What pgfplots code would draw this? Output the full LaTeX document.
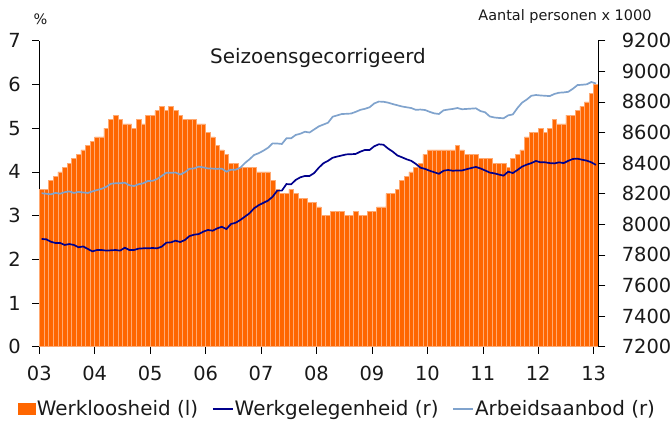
\documentclass[border=0pt]{standalone}
\usepackage{pgfplots}
\usepackage{pgfplotstable}
\pgfplotsset{compat=1.18}
\usepackage{fontspec}
\setmainfont{DejaVu Sans}
\definecolor{worange}{RGB}{255,102,0}
\definecolor{wsep}{RGB}{255,170,115}
\definecolor{wdark}{RGB}{0,0,140}
\definecolor{wlight}{RGB}{128,163,205}
\definecolor{txt}{RGB}{25,25,25}

\pgfplotstableread{
i u e s
0 3.6 7904 8203
1 3.6 7902 8200
2 3.8 7886 8196
3 3.9 7878 8205
4 4.0 7878 8200
5 4.1 7865 8210
6 4.2 7871 8215
7 4.3 7865 8205
8 4.4 7850 8212
9 4.5 7855 8208
10 4.6 7839 8205
11 4.7 7823 8215
12 4.8 7832 8224
13 4.8 7832 8232
14 5.0 7828 8245
15 5.2 7830 8265
16 5.3 7832 8268
17 5.2 7828 8268
18 5.1 7847 8272
19 5.1 7832 8255
20 5.0 7832 8250
21 5.2 7841 8262
22 5.1 7843 8268
23 5.3 7843 8283
24 5.3 7845 8284
25 5.4 7843 8296
26 5.5 7854 8316
27 5.4 7880 8337
28 5.5 7882 8337
29 5.4 7893 8338
30 5.3 7884 8325
31 5.2 7897 8340
32 5.2 7923 8363
33 5.2 7932 8365
34 5.1 7936 8377
35 5.1 7952 8372
36 4.9 7963 8365
37 4.8 7958 8364
38 4.6 7973 8362
39 4.5 7984 8364
40 4.4 7969 8344
41 4.2 8002 8357
42 4.2 8010 8357
43 4.1 8028 8370
44 4.1 8050 8400
45 4.1 8072 8425
46 4.1 8105 8453
47 4.0 8125 8465
48 4.0 8140 8481
49 4.0 8155 8500
50 3.8 8180 8529
51 3.6 8220 8528
52 3.5 8220 8525
53 3.5 8263 8562
54 3.6 8261 8562
55 3.5 8290 8584
56 3.4 8307 8592
57 3.4 8316 8605
58 3.3 8316 8600
59 3.3 8335 8620
60 3.2 8370 8640
61 3.0 8399 8652
62 3.0 8415 8664
63 3.1 8435 8703
64 3.1 8443 8712
65 3.1 8450 8721
66 3.0 8457 8722
67 3.0 8458 8724
68 3.1 8460 8735
69 3.0 8475 8748
70 3.0 8486 8755
71 3.1 8486 8765
72 3.1 8510 8790
73 3.2 8523 8802
74 3.2 8520 8801
75 3.5 8495 8795
76 3.5 8475 8786
77 3.6 8450 8778
78 3.8 8438 8770
79 3.9 8425 8765
80 4.0 8415 8760
81 4.1 8395 8748
82 4.2 8370 8750
83 4.4 8362 8747
84 4.5 8350 8735
85 4.5 8340 8725
86 4.5 8330 8721
87 4.5 8350 8745
88 4.5 8355 8750
89 4.5 8350 8754
90 4.6 8352 8760
91 4.5 8352 8752
92 4.4 8360 8754
93 4.4 8368 8756
94 4.4 8375 8758
95 4.3 8365 8740
96 4.3 8352 8732
97 4.3 8338 8705
98 4.2 8333 8698
99 4.2 8325 8695
100 4.2 8318 8693
101 4.1 8344 8712
102 4.3 8335 8718
103 4.4 8355 8760
104 4.5 8377 8795
105 4.8 8390 8815
106 4.9 8400 8840
107 4.9 8414 8845
108 5.0 8405 8842
109 4.9 8405 8840
110 5.0 8400 8838
111 5.2 8398 8852
112 5.1 8405 8860
113 5.1 8400 8862
114 5.3 8415 8866
115 5.3 8427 8886
116 5.4 8429 8910
117 5.5 8422 8912
118 5.6 8416 8915
119 5.8 8405 8930
120 6.0 8388 8920
}\data

\pgfplotsset{
  common/.style={
    at={(39.3bp,74.3bp)}, anchor=south west,
    scale only axis, width=559bp, height=306bp,
    xmin=0, xmax=121,
    tick align=outside, major tick length=7bp,
    tick style={black, line width=0.6pt},
    axis line style={black, line width=0.8pt, -},
    tick label style={font=\fontsize{19.5}{23}\selectfont, text=txt},
    /pgf/number format/assume math mode=true,
    /pgf/number format/1000 sep={},
  }
}

\begin{document}
\begin{tikzpicture}
\useasboundingbox (0,0) rectangle (670bp,421bp);
\begin{axis}[common,
  ymin=0, ymax=7,
  axis x line*=bottom, axis y line*=left,
  xtick={0,12,...,120},
  xticklabels={03,04,05,06,07,08,09,10,11,12,13},
  xticklabel style={yshift=-9bp},
  yticklabel style={xshift=-8bp},
  ytick={0,1,...,7},
  clip=false,
]
\addplot[ybar, bar width=1, bar shift=0, fill=worange, draw=wsep, line width=0.5pt]
  table[x expr=\thisrow{i}+0.5, y=u] {\data};
\node[font=\fontsize{20}{24}\selectfont, text=txt] at (rel axis cs:0.4986,0.943) {Seizoensgecorrigeerd};
\node[font=\fontsize{14.5}{17}\selectfont, text=txt] at (rel axis cs:0.002,1.069) {\%};
\node[font=\fontsize{14.5}{17}\selectfont, text=txt, anchor=east, inner sep=0pt] at (rel axis cs:1.0955,1.0775) {Aantal personen x 1000};
\end{axis}
\begin{axis}[common,
  ymin=7200, ymax=9200,
  axis x line=none, axis y line*=right,
  ytick={7200,7400,...,9200},
  yticklabel style={xshift=13bp},
  legend columns=3,
  legend style={draw=none, fill=none, at={(0.533,-0.203)}, anchor=center,
    font=\fontsize{20}{24}\selectfont, text=txt,
    /tikz/every even column/.append style={column sep=13bp},
    /tikz/every odd column/.append style={column sep=0bp},
    nodes={inner xsep=1bp}},
  legend cell align=left,
]
\addlegendimage{legend image code/.code={\fill[worange] (0bp,-5.5bp) rectangle (17bp,5.5bp);}}
\addlegendentry{Werkloosheid (l)}
\addplot[wdark, line width=1.7pt, legend image code/.code={\draw[wdark, line width=1.5pt] (0bp,0bp) -- (20bp,0bp);}]
  table[x expr=\thisrow{i}+0.5, y=e] {\data};
\addlegendentry{Werkgelegenheid (r)}
\addplot[wlight, line width=1.7pt, legend image code/.code={\draw[wlight, line width=1.5pt] (0bp,0bp) -- (20bp,0bp);}]
  table[x expr=\thisrow{i}+0.5, y=s] {\data};
\addlegendentry{Arbeidsaanbod (r)}
\end{axis}
\end{tikzpicture}
\end{document}
